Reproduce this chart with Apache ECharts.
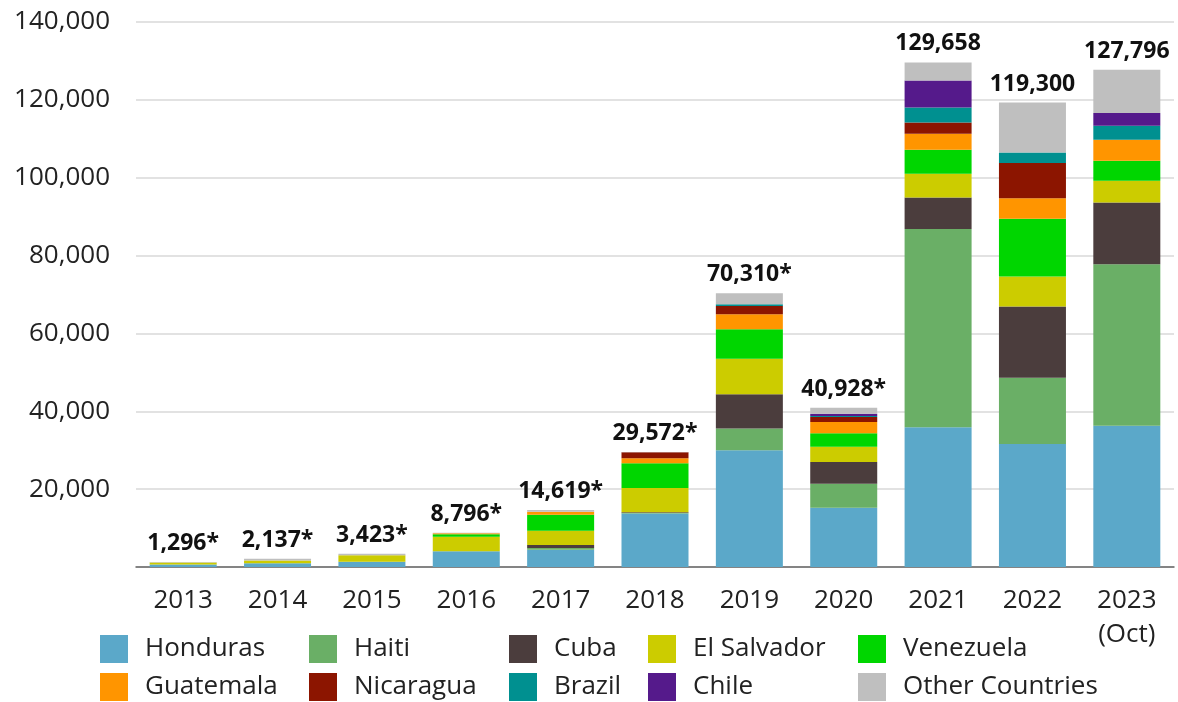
<!DOCTYPE html>
<html>
<head>
    <meta charset="UTF-8"/>
    <script src="https://cdn.jsdelivr.net/npm/echarts@6/dist/echarts.min.js"></script>
    <style>
        html, body {margin: 0; padding: 0; background: #fff;}
        #main {width: 1178px; height: 702px;}
    </style>
</head>
<body>
<div id="main"></div>
<script type="text/javascript">
    // categories and totals
    var years = ['2013', '2014', '2015', '2016', '2017', '2018', '2019', '2020', '2021', '2022', '2023\n(Oct)'];
    var totalLabels = ['1,296*', '2,137*', '3,423*', '8,796*', '14,619*', '29,572*', '70,310*', '40,928*', '129,658', '119,300', '127,796'];

    // values per country
    var honduras   = [646, 987, 1380, 4070, 4410, 13740, 29960, 15230, 35900, 31600, 36310];
    var haiti      = [0, 0, 0, 0, 440, 150, 5650, 6170, 50900, 17040, 41480];
    var cuba       = [0, 0, 0, 0, 770, 150, 8740, 5550, 8120, 18250, 15830];
    var elSalvador = [500, 700, 1640, 3700, 3680, 6250, 9170, 3960, 6090, 7710, 5580];
    var venezuela  = [0, 0, 0, 670, 4110, 6350, 7530, 3420, 6170, 14830, 5140];
    var guatemala  = [0, 0, 0, 200, 770, 1290, 3860, 2900, 4110, 5320, 5400];
    var nicaragua  = [0, 0, 0, 0, 0, 1540, 2130, 1290, 2900, 9000, 0];
    var brazil     = [0, 0, 0, 0, 0, 0, 440, 300, 3855, 2720, 3600];
    var chile      = [0, 0, 0, 0, 0, 0, 0, 570, 6940, 0, 3260];
    var other      = [150, 450, 400, 156, 440, 100, 2830, 1540, 4630, 12850, 11130];

    var names = ['Honduras', 'Haiti', 'Cuba', 'El Salvador', 'Venezuela',
        'Guatemala', 'Nicaragua', 'Brazil', 'Chile', 'Other Countries'];
    var values = [honduras, haiti, cuba, elSalvador, venezuela, guatemala, nicaragua, brazil, chile, other];
    var colors = ['#5ba8c9', '#6aaf66', '#4b3d3d', '#cccc00', '#00d600',
        '#ff9500', '#8c1500', '#009090', '#551a8b', '#bfbfbf'];

    var font = '"Open Sans", "Noto Sans", sans-serif';

    var series = names.map(function (n, i) {
        var s = {
            name: n,
            type: 'bar',
            stack: 'all',
            barWidth: 67,
            data: values[i],
            itemStyle: {color: colors[i]}
        };
        if (i === names.length - 1) {
            // totals sit on top of the stack
            s.label = {
                show: true,
                position: 'top',
                distance: 7,
                fontFamily: font,
                fontWeight: 'bold',
                fontSize: 23,
                color: '#111',
                formatter: function (p) {
                    return totalLabels[p.dataIndex];
                }
            };
        }
        return s;
    });

    // legend laid out as a 5 x 2 grid, one legend per column
    var legendLeft = [100, 309, 509, 648, 858];
    var legends = legendLeft.map(function (x, c) {
        return {
            orient: 'vertical',
            left: x,
            top: 635,
            height: 90,
            padding: 0,
            itemWidth: 28,
            itemHeight: 28,
            itemGap: 10,
            icon: 'rect',
            textStyle: {fontFamily: font, fontSize: 26, color: '#222', padding: [0, 0, 0, 12]},
            data: [names[c], names[c + 5]]
        };
    });

    var myChart = echarts.init(document.getElementById('main'));
    var option = {
        animation: false,
        color: colors,
        legend: legends,
        grid: {left: 136, right: 4, top: 22, bottom: 135},
        xAxis: {
            type: 'category',
            data: years,
            axisLine: {lineStyle: {color: '#666', width: 1.5}},
            axisTick: {show: false},
            axisLabel: {fontFamily: font, fontSize: 26, color: '#222', margin: 17, lineHeight: 34}
        },
        yAxis: {
            type: 'value',
            min: 0,
            max: 140000,
            interval: 20000,
            axisLine: {show: false},
            axisTick: {show: false},
            splitLine: {lineStyle: {color: '#d9d9d9', width: 1.5}},
            axisLabel: {
                fontFamily: font, fontSize: 26, color: '#222', margin: 26,
                formatter: function (v) {
                    return v === 0 ? '' : v.toLocaleString('en-US');
                }
            }
        },
        series: series
    };
    myChart.setOption(option);
</script>
</body>
</html>
